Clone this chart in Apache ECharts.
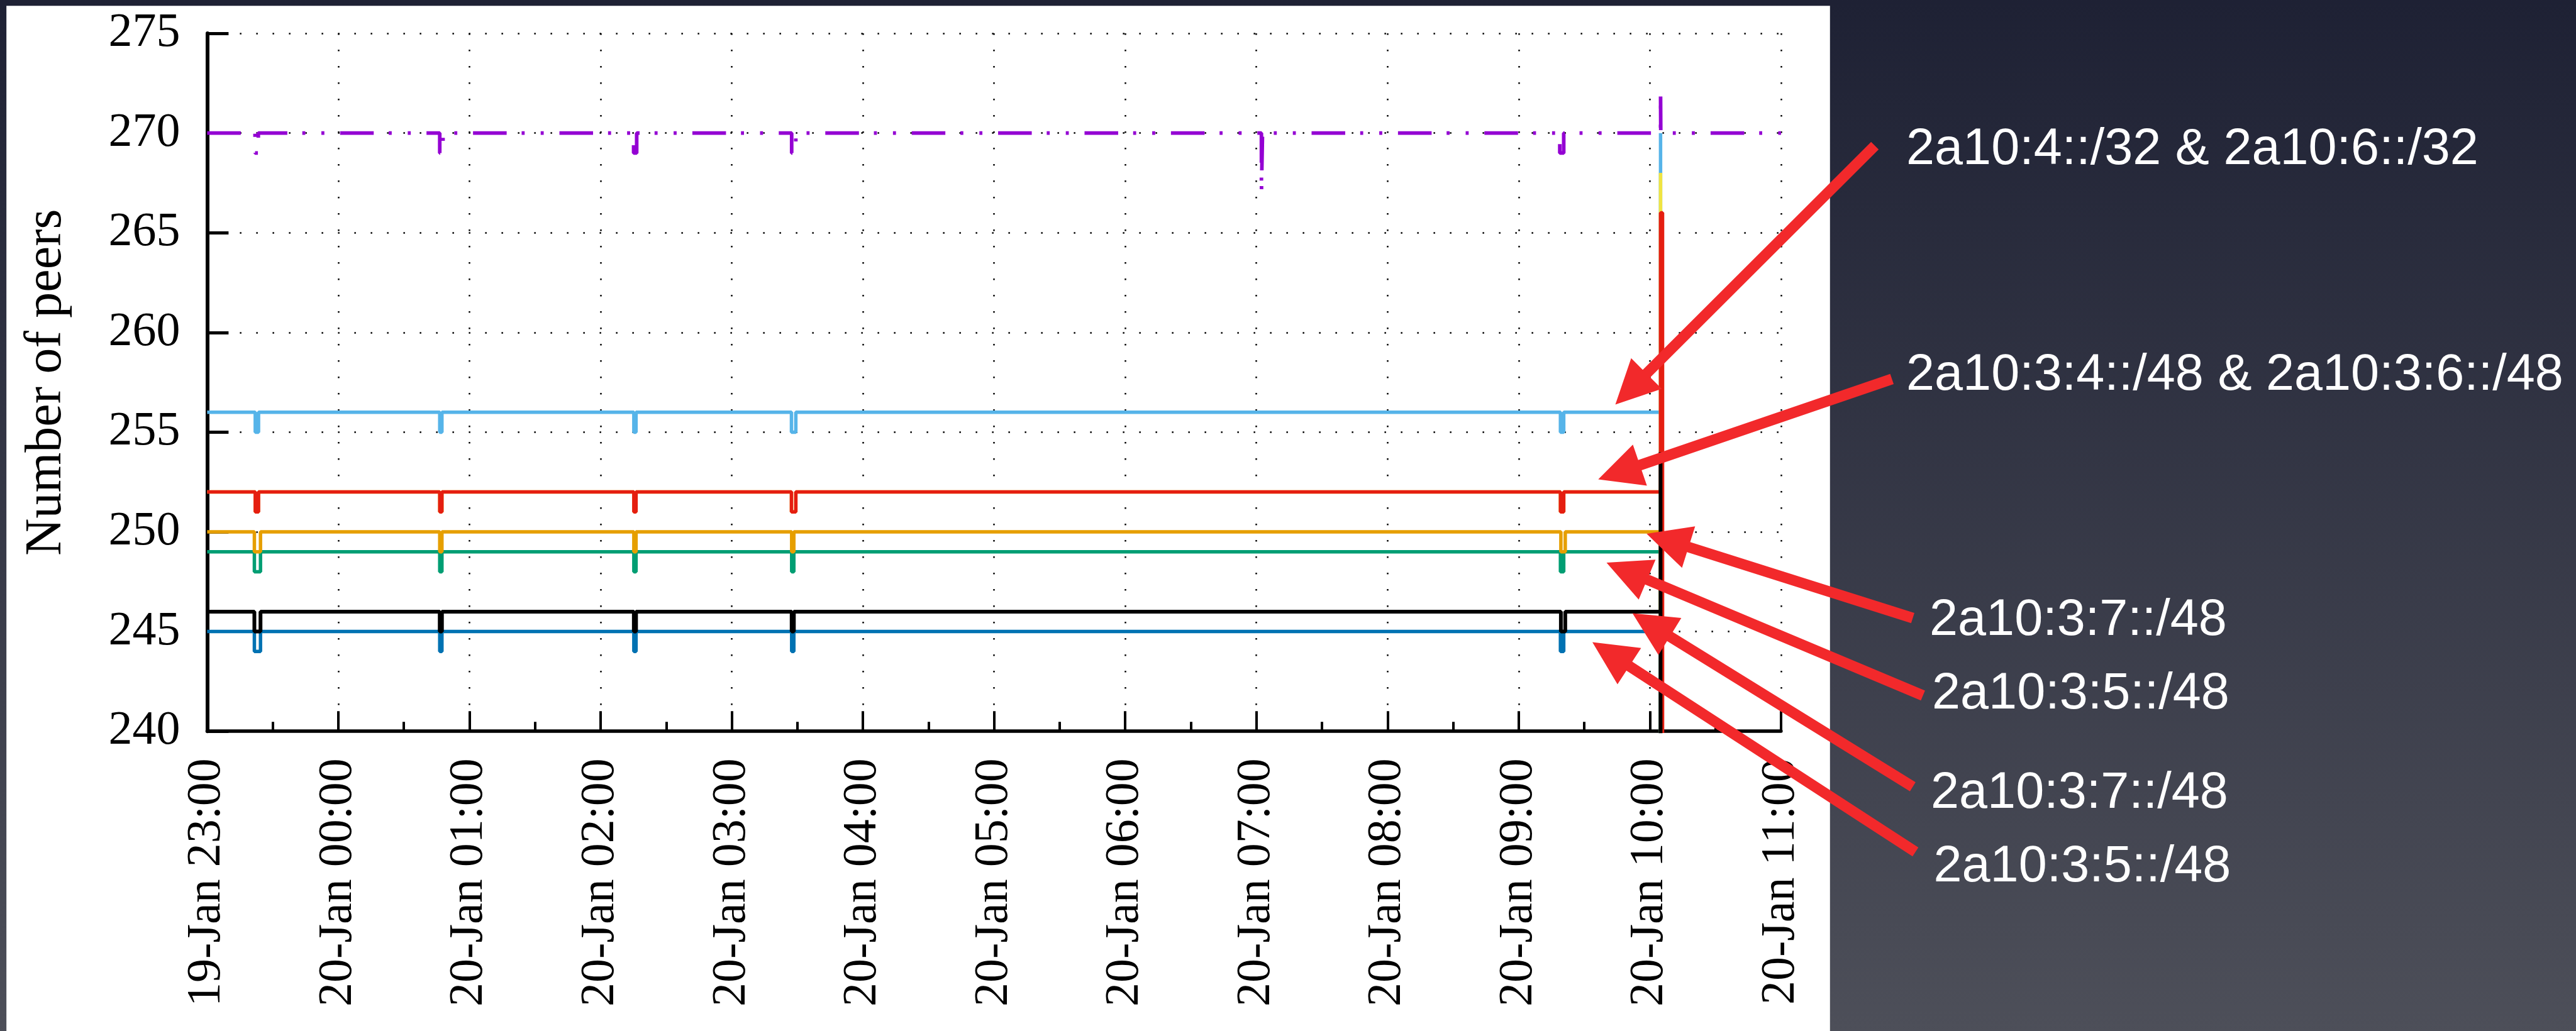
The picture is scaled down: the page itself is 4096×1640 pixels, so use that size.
<!DOCTYPE html>
<html><head><meta charset="utf-8">
<script src="https://cdn.jsdelivr.net/npm/echarts@6/dist/echarts.min.js"></script>
<style>
html,body{margin:0;padding:0;width:4096px;height:1640px;overflow:hidden;background:linear-gradient(180deg,#1e2134 0%,#4d4f59 100%);}
#chart{width:4096px;height:1640px;}
</style></head><body><div id="chart"></div>
<script>
// ---- data (x = minutes after 19-Jan 23:00, y = number of peers) ----
const timeLabels = ['19-Jan 23:00','20-Jan 00:00','20-Jan 01:00','20-Jan 02:00','20-Jan 03:00','20-Jan 04:00','20-Jan 05:00','20-Jan 06:00','20-Jan 07:00','20-Jan 08:00','20-Jan 09:00','20-Jan 10:00','20-Jan 11:00'];
const yRange = [240, 275, 5];
const purplePeers = [[0,270],[21.9,269],[23.4,270],[106.4,269],[107.9,270],[195.1,269],[196.5,270],[267.4,269],[269.3,270],[482.3,267],[482.8,270],[618.8,269],[620.6,270],[664.9,272],[665.0,270],[720,270]];
const greenPeers = [[0,249],[21.6,248],[24.4,249],[106.4,248],[107.4,249],[195.2,248],[196.2,249],[267.4,248],[268.4,249],[619.1,248],[620.6,249],[664.9,0]];
const lightBluePeers = [[0,256],[22.0,255],[23.5,256],[106.4,255],[107.4,256],[195.2,255],[196.2,256],[267.3,255],[269.3,256],[619.1,255],[620.6,256],[664.9,270],[665.0,0]];
const orangePeers = [[0,250],[21.6,249],[24.4,250],[106.4,249],[107.4,250],[195.2,249],[196.2,250],[267.4,249],[268.4,250],[619.3,249],[621.3,250],[664.9,0]];
const yellowPeers = [[0,252],[22.0,251],[23.5,252],[106.4,251],[107.4,252],[195.2,251],[196.2,252],[267.3,251],[269.3,252],[619.1,251],[620.6,252],[664.9,268],[665.0,0]];
const bluePeers = [[0,245],[21.6,244],[24.4,245],[106.4,244],[107.4,245],[195.2,244],[196.2,245],[267.4,244],[268.4,245],[619.1,244],[620.6,245],[664.9,0]];
const redPeers = [[0,252],[22.0,251],[23.5,252],[106.4,251],[107.4,252],[195.2,251],[196.2,252],[267.3,251],[269.3,252],[619.1,251],[620.6,252],[664.9,266],[665.8,0]];
const blackPeers = [[0,246],[21.6,245],[24.4,246],[106.4,245],[107.4,246],[195.2,245],[196.2,246],[267.4,245],[268.4,246],[619.3,245],[621.3,246],[664.9,254],[665.0,0]];
const annotationTexts = ['2a10:4::/32 & 2a10:6::/32','2a10:3:4::/48 & 2a10:3:6::/48','2a10:3:7::/48','2a10:3:5::/48','2a10:3:7::/48','2a10:3:5::/48'];

// ---- layout (pixels) ----
const textPos = [[3031,239.0],[3031,597.3],[3068,987.4],[3072,1104.2],[3070,1262.5],[3074.5,1380.1]];
const arrowPos = [
  [[2981.2,231.8],[2568.5,643.6]],
  [[3008.3,602.9],[2541.3,762.5]],
  [[3041.4,983.2],[2618.2,849.1]],
  [[3057.6,1106.4],[2554.5,894.9]],
  [[3041.4,1251.6],[2595.7,975.6]],
  [[3045.7,1355.1],[2532.0,1021.5]]
];
function arrowPoints(tail, tip, w, L, H){
  const dx = tip[0]-tail[0], dy = tip[1]-tail[1];
  const len = Math.hypot(dx,dy), ux = dx/len, uy = dy/len, nx = -uy, ny = ux;
  const bx = tip[0]-ux*L, by = tip[1]-uy*L;
  return [
    [tail[0]+nx*w/2, tail[1]+ny*w/2],
    [bx+nx*w/2, by+ny*w/2],
    [bx+nx*H/2, by+ny*H/2],
    tip,
    [bx-nx*H/2, by-ny*H/2],
    [bx-nx*w/2, by-ny*w/2],
    [tail[0]-nx*w/2, tail[1]-ny*w/2]
  ];
}

const serif = 'Liberation Serif';
const chart = echarts.init(document.getElementById('chart'), null, {renderer:'canvas'});
function mk(name, data, color, width, type){
  return {name, type:'line', step:'end', data, showSymbol:false, symbol:'none', clip:true,
    lineStyle:{color, width, type: type || 'solid', cap:'butt'}, itemStyle:{color}, silent:true};
}
const graphic = [{type:'rect', z:-100, shape:{x:10.2,y:9.3,width:2899.6,height:1640}, style:{fill:'#ffffff'}}];
arrowPos.forEach(a => graphic.push({type:'polygon', z:100, shape:{points:arrowPoints(a[0],a[1],17,70,69)}, style:{fill:'#f2292b'}}));
annotationTexts.forEach((t,i) => graphic.push({type:'text', z:101, x:textPos[i][0], y:textPos[i][1],
  style:{text:t, fill:'#ffffff', font:'81px "Liberation Sans"', align:'left', textAlign:'left', verticalAlign:'middle', textVerticalAlign:'middle'}}));

chart.setOption({
  animation:false,
  backgroundColor:'transparent',
  grid:{left:329.4, top:53.1, width:2502.5, height:1110.1, containLabel:false, outerBoundsMode:'none'},
  xAxis:{type:'value', min:0, max:720, interval:60,
    axisLine:{show:true, onZero:false, lineStyle:{color:'#000', width:5.5}},
    axisTick:{show:true, inside:true, length:32, lineStyle:{color:'#000', width:4}},
    minorTick:{show:true, splitNumber:2, length:15, lineStyle:{color:'#000', width:4}},
    splitLine:{show:true, lineStyle:{color:'#000', width:2.5, type:[2.5,23.5]}},
    minorSplitLine:{show:false},
    axisLabel:{show:true, rotate:90, margin:43, color:'#000', fontFamily:serif, fontSize:76,
      formatter:(v)=>timeLabels[Math.round(v/60)]}
  },
  yAxis:{type:'value', min:yRange[0], max:yRange[1], interval:yRange[2],
    name:'Number of peers', nameLocation:'middle', nameGap:214,
    nameTextStyle:{color:'#000', fontFamily:serif, fontSize:82},
    axisLine:{show:true, onZero:false, lineStyle:{color:'#000', width:6}},
    axisTick:{show:true, inside:true, length:34, lineStyle:{color:'#000', width:5}},
    splitLine:{show:true, lineStyle:{color:'#000', width:2.5, type:[2.5,23.5]}},
    axisLabel:{show:true, margin:43, color:'#000', fontFamily:serif, fontSize:76}
  },
  series:[
    mk('series 1', purplePeers, '#9400d3', 5.8, [53.5,23.8,4.8,25.5,4.8,25]),
    mk('2a10:3:5::/48 (a)', greenPeers, '#009e73', 5.5),
    mk('2a10:4::/32 & 2a10:6::/32', lightBluePeers, '#56b4e9', 5.5),
    mk('2a10:3:7::/48 (a)', orangePeers, '#e69f00', 5.5),
    mk('series 5', yellowPeers, '#f0e442', 5.5),
    mk('2a10:3:5::/48 (b)', bluePeers, '#0072b2', 5.5),
    mk('2a10:3:4::/48 & 2a10:3:6::/48', redPeers, '#e51e10', 5.5),
    mk('2a10:3:7::/48 (b)', blackPeers, '#000000', 6)
  ],
  graphic
});
</script></body></html>
